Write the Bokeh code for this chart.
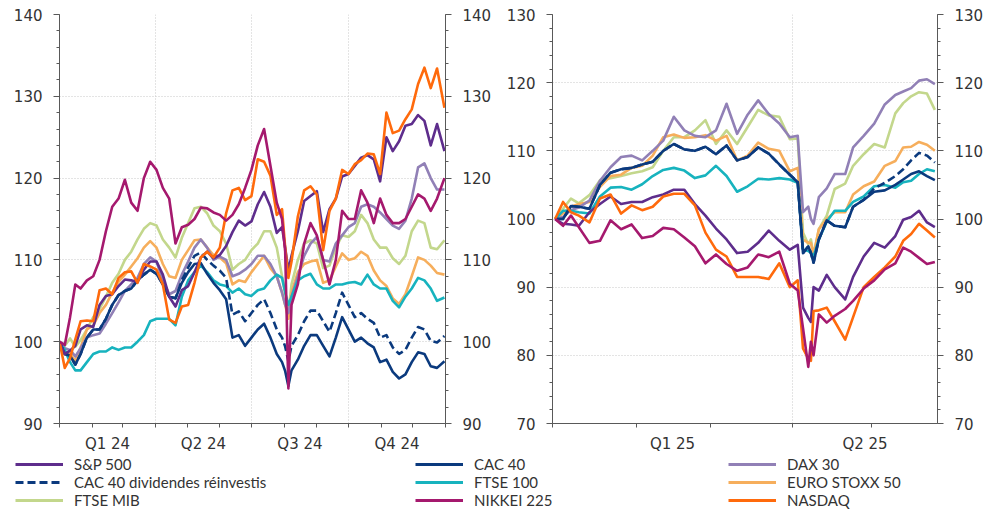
import numpy as np
from bokeh.plotting import figure
from bokeh.models import Range1d, LinearAxis, FixedTicker, SingleIntervalTicker, Legend, LegendItem, Grid
from bokeh.layouts import column, row
from bokeh.embed import file_html
from bokeh.resources import INLINE

# ---------------- data: 2024 (day of year, index 31/12/2023 = 100) ----------------
DAYS_24 = [0, 5, 10, 15, 20, 26, 32, 38, 44, 50, 56, 62, 68, 74, 80, 86, 92, 98, 104, 110,
           116, 122, 128, 134, 140, 146, 152, 158, 164, 170, 176, 182, 188, 194, 200, 206, 211, 214, 217, 220,
           226, 232, 238, 244, 250, 256, 262, 268, 274, 280, 286, 292, 298, 304, 310, 316, 322, 328, 334, 340,
           346, 352, 358, 365]
SP_24 = [100, 98.5, 98.9, 99.5, 101.5, 102, 101.8, 104.5, 105.6, 105.8,
         106.8, 107.6, 107.5, 107.3, 108.8, 109.8, 109.8, 108.2, 105.5, 104.3,
         106.3, 106.8, 108.5, 110.3, 111, 110.2, 110.6, 111.7, 113.4, 114.8,
         114.2, 114.7, 116.8, 118.3, 116.5, 113.3, 114, 111.5, 108.7, 110.5,
         113.5, 117.2, 117.8, 118.4, 113.4, 116.2, 117.5, 120.2, 120.5, 121.5,
         122.5, 122.8, 122.3, 119.6, 125, 123.3, 124.5, 126.4, 126.6, 127.7,
         127, 124, 126.6, 123.3]
CAC_24 = [100, 98.5, 98.3, 97.2, 98.5, 100.5, 101.5, 101.5, 102.8, 104.5,
          105.7, 106.2, 106.5, 107.5, 108.2, 108.8, 108.3, 107, 105.5, 105.3,
          107.2, 108.5, 109.5, 109.6, 108.3, 107.2, 106.3, 105.2, 100.5, 100.8,
          99.5, 100.5, 101.5, 102.2, 100.5, 98.5, 97.5, 96.4, 94.6, 96.5,
          97.8, 99.5, 100.8, 100.8, 99.5, 98.2, 100.5, 103, 101.5, 100,
          100.5, 99.8, 99.3, 97.5, 97.8, 96.3, 95.5, 96, 97.5, 98.7,
          98.5, 97, 96.8, 97.6]
DAX_24 = [100, 99.2, 99, 98.2, 99.2, 100.5, 100.8, 101, 102.2, 103.5,
          104.8, 106.2, 107, 107.8, 109.5, 110.3, 109.8, 107.5, 105.8, 106.2,
          108.2, 109.8, 111.5, 112.5, 111.5, 110, 110.4, 110, 108, 108.3,
          108.8, 109.5, 110.5, 110.5, 109.5, 108, 106, 104.5, 103.5, 105.5,
          108, 110.5, 112, 112.8, 110, 109.8, 112, 113, 114, 114.5,
          116.5, 116.8, 116.5, 115.8, 115, 114.2, 113.8, 114.8, 117.5, 121.3,
          121.8, 120, 118.6, 118.6]
CACDIV_24 = [100, 98.5, 98.3, 97.2, 98.5, 100.5, 101.5, 101.5, 102.8, 104.5,
             105.7, 106.2, 106.5, 107.5, 108.2, 108.8, 108.3, 107, 105.5, 105.3,
             107.5, 109.1, 110.5, 110.9, 110, 109.3, 108.7, 107.8, 103.3, 103.7,
             102.5, 103.5, 104.5, 105.2, 103.5, 101.5, 100.5, 99.4, 97.6, 99.5,
             100.8, 102.5, 103.8, 103.8, 102.5, 101.2, 103.5, 106, 104.5, 103,
             103.5, 102.8, 102.3, 100.5, 100.8, 99.3, 98.5, 99, 100.5, 101.8,
             101.5, 100.1, 99.9, 100.7]
FTSE100_24 = [100, 99, 97.5, 96.5, 96.5, 97.5, 98.5, 98.8, 98.8, 99.3,
              99, 99.3, 99.3, 100, 100.8, 102.5, 102.8, 102.8, 102.8, 102,
              105.5, 107.5, 108.5, 109.3, 108.5, 107.5, 107, 106.8, 106, 106.5,
              105.8, 105.6, 106.3, 106.5, 107.5, 108.2, 107.8, 106, 104.5, 105.5,
              107.5, 108, 108.3, 107, 106.5, 106.5, 107, 107, 107.2, 107.3,
              107, 108.2, 107, 106.5, 106.5, 105, 104.2, 105.5, 106.5, 107.8,
              107.5, 106.5, 105, 105.4]
ESX50_24 = [100, 98.5, 98.6, 97.6, 99.3, 101.5, 102, 103.5, 104.5, 106,
            107.3, 108.2, 109.2, 110.2, 111.5, 112.3, 111.5, 109.5, 108, 107.8,
            110, 111.2, 112.4, 112.5, 111.5, 110.6, 110.3, 109.6, 107, 107.5,
            107.3, 108.5, 109.5, 110.5, 109, 108, 106, 104.5, 102.8, 106,
            108.5, 109.5, 109.8, 110, 107.2, 107.5, 109.2, 110.8, 110, 110.2,
            111, 110.5, 108.7, 107.5, 106.8, 105.3, 104.6, 105.8, 108, 110.3,
            110, 109.3, 108.4, 108.2]
MIB_24 = [100, 99.5, 100.4, 99.4, 100.2, 101.5, 103, 104, 105.5, 107.2,
          108.3, 110, 111, 112.5, 113.8, 114.5, 114.2, 112.5, 111.5, 110.3,
          112.7, 114.5, 116.3, 116.5, 115.7, 114.2, 113.5, 112, 108.8, 109.5,
          110, 111.2, 112, 113.5, 113.5, 111.5, 108, 106, 103.5, 107,
          110, 112, 112.4, 112, 109, 109.3, 111.5, 113, 112.8, 113.5,
          115.5, 114.5, 112.5, 111.5, 111.5, 110.2, 109.5, 110.5, 113.5, 114.8,
          114.5, 111.5, 111.3, 112.4]
NIKKEI_24 = [100, 99.6, 103, 107, 106.5, 107.5, 108, 110, 113.5, 116.5,
             117.5, 119.8, 117, 116, 120, 122, 121, 118.8, 117.5, 112,
             114, 114.3, 115, 116.4, 116.3, 115.8, 115.5, 114.8, 115.5, 116.8,
             118.8, 121, 124, 126, 121.5, 117, 115, 111, 94.3, 104.5,
             107, 112, 114.5, 113, 110, 107, 110, 116, 115, 115,
             118.5, 117, 114.5, 117.5, 115.5, 114.5, 114.5, 115, 116.5, 118,
             117.5, 116, 117.5, 120]
NASDAQ_24 = [100, 96.8, 98, 100.3, 102.5, 102.6, 102.5, 106.3, 106.5, 105.8,
             107.8, 108.5, 108.6, 107.2, 109.5, 109.2, 108.8, 107, 102.7, 102.3,
             104.3, 104.5, 107.2, 110.3, 111, 110.3, 111.5, 115.7, 118.5, 118.8,
             117.3, 117.8, 122.3, 122, 120.3, 115.5, 116.2, 111.5, 107.8, 109.8,
             115.3, 118.5, 119, 118, 111.2, 116, 117.5, 121, 120.5, 121.7,
             122.2, 123, 122.9, 120.5, 128, 125.5, 125.8, 127.2, 128.4, 131.5,
             133.5, 131, 133.4, 128.6]

# ---------------- data: 2025 (day of year, index 31/12/2024 = 100) ----------------
DAYS_25 = [0, 3, 6, 9, 13, 17, 21, 25, 29, 33, 37, 41, 45, 49, 53, 57, 61, 65, 69, 73,
           77, 81, 85, 89, 92, 94, 96, 97, 98, 100, 103, 106, 110, 113, 117, 121, 125, 129, 132, 135,
           138, 141, 144]
SP_25 = [100, 99.3, 99.2, 99, 101, 102.2, 103.3, 102.2, 102.5, 102.5,
         103.2, 103.6, 104.3, 104.3, 102.2, 100.5, 98.6, 97, 95, 95.2,
         96.5, 98.3, 96.8, 95.5, 96.2, 87, 85.5, 84.9, 90, 89.5,
         91.8, 90, 88.2, 91.5, 94.5, 96.5, 95.8, 97.5, 99.9, 100.3,
         101.2, 99.5, 98.8]
CAC_25 = [100, 100, 101.9, 101.8, 101.5, 105, 106.8, 107.3, 107.5, 108,
          108.4, 110, 111, 110.2, 110, 110.6, 109.5, 110.8, 108.6, 109.1,
          110.5, 109.6, 108, 106.5, 105.4, 95, 96, 95, 93.6, 97,
          99.8, 99, 98.8, 101.8, 102.8, 104, 104.2, 105, 105.8, 106.6,
          107, 106.3, 105.7]
DAX_25 = [100, 100.3, 101.3, 101.7, 102.7, 105.6, 107.6, 109.1, 109.3, 108.6,
          110, 111.5, 115, 113, 112.2, 112, 113, 116.9, 112.5, 115.3,
          117.4, 115.4, 114, 112, 112.2, 101, 101.8, 100, 99.3, 103.2,
          104.5, 106.6, 106.6, 110.5, 112.2, 114, 116.8, 118.2, 118.7, 119.2,
          120.3, 120.5, 119.8]
CACDIV_25 = [100, 100, 101.9, 101.8, 101.5, 105, 106.8, 107.3, 107.5, 108,
             108.4, 110, 111, 110.2, 110, 110.6, 109.5, 110.8, 108.6, 109.1,
             110.5, 109.6, 108, 106.5, 105.4, 95, 96, 95, 93.6, 97,
             99.8, 99, 98.8, 101.8, 102.8, 104.5, 105.3, 106.3, 107.3, 108.6,
             109.7, 109.3, 108.3]
FTSE100_25 = [100, 101.2, 101.2, 101, 100.8, 103.3, 104.6, 104.7, 104.3, 105.1,
              106.3, 107.2, 107.5, 107.1, 106, 106.4, 107.8, 106.3, 104, 104.8,
              105.9, 105.8, 106, 105.8, 105.3, 95.5, 95.3, 95, 94.5, 97,
              99.6, 101.2, 101.2, 102.5, 103.3, 104.8, 105, 104.6, 105.4, 105.6,
              106.6, 107.3, 107]
ESX50_25 = [100, 100.8, 101.8, 102.2, 102.5, 104.7, 106.3, 106.5, 107.5, 107.8,
            109.3, 112, 112.4, 111.9, 112, 112.3, 111.5, 112.2, 108.6, 109.3,
            111.2, 110.3, 110, 107, 107.5, 97, 96.5, 96.5, 94.8, 98.5,
            100, 101, 101, 103.6, 104.8, 105.5, 107.8, 108.5, 110.5, 110.6,
            111.3, 110.9, 110]
MIB_25 = [100, 101.5, 103, 102.3, 103.5, 105.7, 106, 106.3, 106.7, 107,
          107.6, 110, 112, 112, 113, 114.5, 111, 113, 111, 113.5,
          116, 115.2, 115, 111.7, 111.8, 98, 96.3, 97, 94.6, 98.5,
          100.5, 104.4, 105.2, 107.8, 109.5, 111, 110.5, 115.5, 117, 118,
          118.6, 118.4, 116]
NIKKEI_25 = [100, 99, 100.5, 98.8, 96.5, 96.8, 99.8, 98.5, 99.2, 97.2,
             97.5, 98.7, 98.5, 97.3, 96, 93.5, 94.8, 93.4, 92.4, 92.9,
             94.8, 94.4, 95.2, 90.5, 89.5, 84, 78.3, 82, 80, 86,
             84.8, 85.8, 86.8, 88, 89.8, 91, 92.6, 93.5, 95.8, 95.2,
             94.3, 93.4, 93.7]
NASDAQ_25 = [100, 102.5, 101, 100.5, 99.5, 103, 103.6, 100.8, 102, 101.3,
             101.8, 103.3, 103.7, 103.7, 102, 98, 95.5, 94.5, 91.5, 91.5,
             91.5, 91.2, 93.5, 90, 91, 81, 79.5, 79.2, 86.5, 86.6,
             87, 85, 82.3, 85.6, 90, 91.5, 92.9, 94.5, 96.8, 97.8,
             99.3, 98.3, 97.3]

# ticks / labels
MONTHS_24 = [0, 31, 60, 91, 121, 152, 182, 213, 244, 274, 305, 335, 366]
QSTARTS_24 = [91, 182, 274]
QLABELS_24 = {45.5: "Q1 24", 136.5: "Q2 24", 228: "Q3 24", 320: "Q4 24"}
MONTHS_25 = [-1, 31, 59, 90, 120]
QSTARTS_25 = [90]
QLABELS_25 = {44.5: "Q1 25", 117.5: "Q2 25"}

SERIES = [  # name, colour, dash, data24, data25  (draw order)
    ("FTSE MIB", "#C3D78C", "solid", MIB_24, MIB_25),
    ("EURO STOXX 50", "#F6AE5C", "solid", ESX50_24, ESX50_25),
    ("DAX 30", "#9180B6", "solid", DAX_24, DAX_25),
    ("FTSE 100", "#17B3BE", "solid", FTSE100_24, FTSE100_25),
    ("CAC 40 dividendes réinvestis", "#0B3A7E", "8 4", CACDIV_24, CACDIV_25),
    ("CAC 40", "#0B3A7E", "solid", CAC_24, CAC_25),
    ("S&P 500", "#5E2D8C", "solid", SP_24, SP_25),
    ("NASDAQ", "#FF6A0C", "solid", NASDAQ_24, NASDAQ_25),
    ("NIKKEI 225", "#A5196E", "solid", NIKKEI_24, NIKKEI_25),
]
LEGEND_COLS = [
    ["S&P 500", "CAC 40 dividendes réinvestis", "FTSE MIB"],
    ["CAC 40", "FTSE 100", "NIKKEI 225"],
    ["DAX 30", "EURO STOXX 50", "NASDAQ"],
]

AX = "#595959"
TXT = "#333333"
GRID = "#C8C8C8"
TOP_H = 455
FRAME_BOTTOM = 423


def style_axis(ax, tick_out=6, minor_out=3, standoff=11):
    ax.axis_line_color = AX
    ax.major_tick_line_color = AX
    ax.minor_tick_line_color = AX
    ax.major_tick_out = tick_out
    ax.major_tick_in = 0
    ax.minor_tick_out = minor_out
    ax.minor_tick_in = 0
    ax.major_label_text_font = "DejaVu Sans"
    ax.major_label_text_font_size = "15px"
    ax.major_label_text_color = TXT
    ax.major_label_standoff = standoff


def make_panel(width, days, idx, xr, yr, months, qstarts, qlabels, mb_left, mb_right):
    p = figure(width=width, height=TOP_H, x_range=Range1d(*xr), y_range=Range1d(*yr),
               output_backend="svg", toolbar_location=None,
               min_border_left=mb_left, min_border_right=mb_right,
               min_border_top=14, min_border_bottom=TOP_H - FRAME_BOTTOM)
    p.outline_line_color = None
    p.background_fill_color = "white"
    p.border_fill_color = "white"
    # x axis: quarter names centred in each quarter, short ticks at month starts
    xa = p.xaxis[0]
    xa.ticker = FixedTicker(ticks=list(qlabels.keys()), minor_ticks=months)
    xa.major_label_overrides = dict(qlabels)
    style_axis(xa, tick_out=0, minor_out=4, standoff=7)
    ya = p.yaxis[0]
    ya.ticker = SingleIntervalTicker(interval=10, num_minor_ticks=5)
    style_axis(ya)
    yr_ax = LinearAxis(ticker=SingleIntervalTicker(interval=10, num_minor_ticks=5))
    style_axis(yr_ax)
    p.add_layout(yr_ax, "right")
    p.xgrid.visible = False
    vg = Grid(dimension=0, ticker=FixedTicker(ticks=qstarts))
    p.add_layout(vg, "center")
    p.ygrid.ticker = SingleIntervalTicker(interval=10)
    for g in (vg, p.ygrid[0]):
        g.grid_line_color = GRID
        g.grid_line_dash = "1 2"
        g.grid_line_width = 1
    for name, col, dash, d24, d25 in SERIES:
        ys = d24 if idx == 0 else d25
        p.line(days, ys, line_color=col, line_width=2.6, line_dash=dash, line_join="round")
    return p


p1 = make_panel(498, DAYS_24, 0, (0, 366), (90, 140), MONTHS_24, QSTARTS_24, QLABELS_24, 59, 53)
p2 = make_panel(488, DAYS_25, 1, (-1, 145), (70, 130), MONTHS_25, QSTARTS_25, QLABELS_25, 54, 49)

# legend strip
LEG_H = 54
pl = figure(width=986, height=LEG_H, x_range=Range1d(0, 1), y_range=Range1d(0, 1),
            output_backend="svg", toolbar_location=None, min_border=0,
            x_axis_location=None, y_axis_location=None)
pl.outline_line_color = None
pl.xgrid.visible = False
pl.ygrid.visible = False
rend = {}
for name, col, dash, d24, d25 in SERIES:
    rend[name] = pl.line(x=np.array([np.nan]), y=np.array([np.nan]),
                         line_color=col, line_width=3, line_dash=dash)

for xpos, names in zip([15, 415, 728], LEGEND_COLS):
    lg = Legend(items=[LegendItem(label=n, renderers=[rend[n]]) for n in names],
                location=(xpos, 0), orientation="vertical", spacing=0, padding=0, margin=0,
                glyph_width=48, glyph_height=18, label_height=18, label_standoff=11,
                label_text_font="Lato", label_text_font_size="15px", label_text_color=TXT,
                label_text_baseline="middle",
                border_line_color=None, background_fill_alpha=0)
    pl.add_layout(lg)

layout = column(row(p1, p2), pl)
open("out.html", "w").write(file_html(layout, INLINE))
